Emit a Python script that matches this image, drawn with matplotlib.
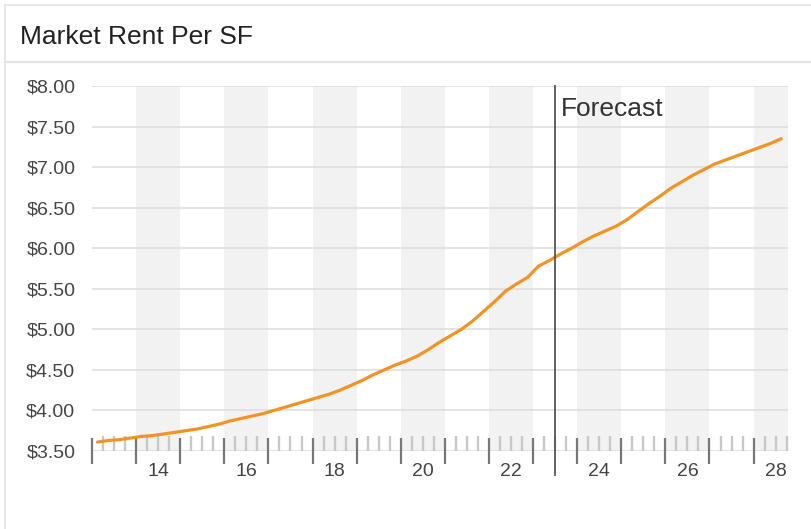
import numpy as np
import matplotlib
matplotlib.use("Agg")
import matplotlib.pyplot as plt
from matplotlib.lines import Line2D
from matplotlib.patches import Rectangle
from matplotlib.ticker import FixedLocator, FuncFormatter

plt.rcParams["font.family"] = ["Liberation Sans", "DejaVu Sans"]

# quarterly market rent, 2013 Q1 .. 2028 Q3 (plotted at mid-quarter)
rent = [
    3.61, 3.63, 3.64, 3.66,
    3.68, 3.69, 3.71, 3.73,
    3.75, 3.77, 3.80, 3.83,
    3.87, 3.90, 3.93, 3.96,
    4.00, 4.04, 4.08, 4.12,
    4.16, 4.20, 4.25, 4.31,
    4.37, 4.44, 4.50, 4.56,
    4.61, 4.67, 4.75, 4.84,
    4.92, 5.00, 5.10, 5.22,
    5.34, 5.47, 5.56, 5.64,
    5.78, 5.85, 5.93, 6.00,
    6.08, 6.15, 6.21, 6.27,
    6.35, 6.45, 6.55, 6.64,
    6.74, 6.82, 6.90, 6.97,
    7.04, 7.09, 7.14, 7.19,
    7.24, 7.29, 7.35,
]
quarters = 2013.125 + 0.25 * np.arange(len(rent))
forecast_start = 2023.5
label_years = [2014, 2016, 2018, 2020, 2022, 2024, 2026, 2028]
shaded_years = [2014, 2016, 2018, 2020, 2022, 2024, 2026, 2028]
y_ticks = np.arange(3.5, 8.01, 0.5)

W, H = 811, 529
fig = plt.figure(figsize=(W / 100, H / 100), dpi=100)

# card frame and header
fig.patches.append(Rectangle((5 / W, -0.1), 1.0, 1 - 5 / H + 0.1, transform=fig.transFigure,
                             fill=False, edgecolor="#e3e3e3", linewidth=1.2))
fig.lines.append(Line2D([5 / W, 1], [1 - 62 / H] * 2, transform=fig.transFigure,
                        color="#e3e3e3", linewidth=1.6))
fig.text(20 / W, 1 - 44.5 / H, "Market Rent Per SF", fontsize=19, color="#222222",
         va="baseline", ha="left")

ax = fig.add_axes([92 / W, (H - 451) / H, 696 / W, 365 / H])
ax.set_xlim(2013.0, 2028.78)
ax.set_ylim(3.5, 8.0)

for yr in shaded_years:
    ax.axvspan(yr, yr + 1, color="#f2f2f2", zorder=0, linewidth=0)

for v in y_ticks:
    ax.axhline(v, color="#dddddd", linewidth=1.1, zorder=1)

ax.plot(quarters, rent, color="#f39323", linewidth=2.3, zorder=4, solid_capstyle="round")

ax.axvline(forecast_start, ymin=-0.066, ymax=1.0, color="#555555", linewidth=1.3,
           clip_on=False, zorder=5)
ax.annotate("Forecast", xy=(forecast_start, 1), xycoords=("data", "axes fraction"),
            xytext=(6, -30), textcoords="offset pixels", fontsize=19, color="#333333",
            ha="left", va="baseline")

for s in ax.spines.values():
    s.set_visible(False)

ax.set_yticks(y_ticks)
ax.yaxis.set_major_formatter(FuncFormatter(lambda v, p: f"${v:.2f}"))
ax.tick_params(axis="y", length=0, pad=12, labelsize=14, labelcolor="#444444")

ax.xaxis.set_major_locator(FixedLocator(np.arange(2013, 2029)))
ax.xaxis.set_minor_locator(FixedLocator(np.arange(2013, 2028.8, 0.25)))
ax.set_xticklabels([])
ax.tick_params(axis="x", which="major", direction="inout", length=19, width=1.6,
               color="#777777")
ax.tick_params(axis="x", which="minor", direction="in", length=10.5, width=1.7,
               color="#c8c8c8")

for yr in label_years:
    ax.annotate(str(yr)[2:], xy=(yr + 0.5, 0), xycoords=("data", "axes fraction"),
                xytext=(0, -20.5), textcoords="offset pixels", ha="center", va="center",
                fontsize=14, color="#444444", annotation_clip=False)

fig.savefig("out.png", dpi=100)
